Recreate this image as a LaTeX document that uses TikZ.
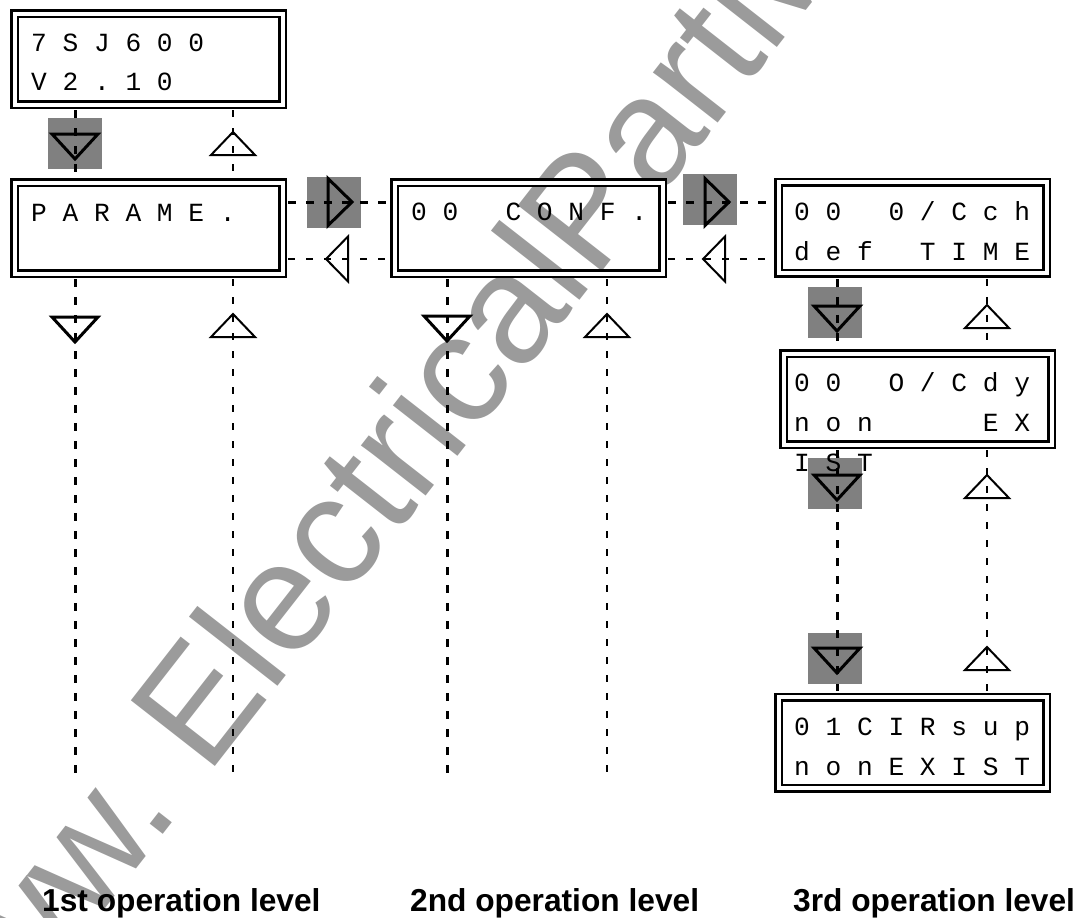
\documentclass[tikz,border=0pt]{standalone}
\usepackage{fontspec}
\newfontfamily\lcdfont{Liberation Mono}
\newfontfamily\lblfont{Liberation Sans}
\newfontfamily\wmfont{Liberation Sans}
\definecolor{wmgray}{RGB}{155,155,155}
\definecolor{sqgray}{RGB}{128,128,128}
\frenchspacing
\begin{document}
\begin{tikzpicture}[x=1pt,y=-1pt,
  lcd/.style={draw, double, double distance=4pt, line width=2.5pt, rectangle,
    minimum width=268pt, minimum height=91pt, inner sep=0pt},
  lcdtxt/.style={anchor=base west, inner sep=0pt, font=\lcdfont\fontsize{26.2}{30}\selectfont},
  lbl/.style={anchor=base west, inner sep=0pt, font=\lblfont\bfseries\fontsize{31.7}{36}\selectfont},
  wm/.style={inner sep=0pt, text=wmgray, rotate=52, font=\wmfont\fontsize{155}{160}\selectfont},
  downline/.style={line width=3pt, dash pattern=on 8pt off 10pt, shorten <=4.5pt, shorten >=4.5pt},
  upline/.style={line width=1.8pt, dash pattern=on 7pt off 11pt, shorten <=4.5pt, shorten >=4.5pt},
  thicktri/.style={line width=3pt, line join=miter},
  thintri/.style={line width=2pt, line join=miter},
  pics/gsq/.style={code={\fill[sqgray] (-27,-25.5) rectangle (27,25.5);}},
  pics/dtri/.style={code={\draw[thicktri] (-23,0) -- (23,0) -- (0,25) -- cycle;}},
  pics/rtri/.style={code={\draw[thicktri] (0,-23.5) -- (0,23.5) -- (24,0) -- cycle;}},
  pics/utri/.style={code={\draw[thintri] (-22,0) -- (22,0) -- (0,-23) -- cycle;}},
  pics/ltri/.style={code={\draw[thintri] (0,-22.5) -- (0,22.5) -- (-22,0) -- cycle;}},
]
\useasboundingbox (0,0) rectangle (1079,918);
\clip (0,0) rectangle (1079,918);

% watermark
\node[wm, anchor=base west] (wm1) at (207.5,776.6) {ElectricalPartManuals.com};
\node[wm, anchor=base east] (wm0) at (181.5,810.9) {www.};

% gray squares
\pic at (75,143.5) {gsq};
\pic at (333.5,202.5) {gsq};
\pic at (710,199.5) {gsq};
\pic at (835,312.5) {gsq};
\pic at (835,483.5) {gsq};
\pic at (835,658) {gsq};

% display boxes
\node[lcd] (b1) at (148.5,59) {};
\node[lcd] (b2) at (148.5,228) {};
\node[lcd] (b3) at (528.5,228) {};
\node[lcd] (b4) at (912.5,227.5) {};
\node[lcd] (b5) at (917.5,399) {};
\node[lcd] (b6) at (912.5,742.5) {};

% reference coordinates
\coordinate (cA) at (75,0);
\coordinate (cB) at (233,0);
\coordinate (cC) at (447,0);
\coordinate (cD) at (607,0);
\coordinate (cE) at (837,0);
\coordinate (cF) at (987,0);
\coordinate (rR) at (0,202);
\coordinate (rL) at (0,259);
\coordinate (eA) at (75,786);
\coordinate (eB) at (233,786);
\coordinate (eC) at (447,786);
\coordinate (eD) at (607,786);

% connectors
\draw[downline] (b1.south -| cA) -- (b2.north -| cA);
\draw[upline] (b1.south -| cB) -- (b2.north -| cB);
\draw[downline] (b2.south -| cA) -- (eA);
\draw[upline] (b2.south -| cB) -- (eB);
\draw[downline] (b3.south -| cC) -- (eC);
\draw[upline] (b3.south -| cD) -- (eD);
\draw[downline] (b2.east |- rR) -- (b3.west |- rR);
\draw[upline] (b2.east |- rL) -- (b3.west |- rL);
\draw[downline] (b3.east |- rR) -- (b4.west |- rR);
\draw[upline] (b3.east |- rL) -- (b4.west |- rL);
\draw[downline] (b4.south -| cE) -- (b5.north -| cE);
\draw[upline] (b4.south -| cF) -- (b5.north -| cF);
\draw[downline] (b5.south -| cE) -- (b6.north -| cE);
\draw[upline] (b5.south -| cF) -- (b6.north -| cF);

% display texts
\node[lcdtxt] (t1a) at (31,51) {7~S~J~6~0~0};
\node[lcdtxt] (t1b) at (31,90) {V~2~.~1~0};
\node[lcdtxt] (t2a) at (31,221) {P~A~R~A~M~E~.};
\node[lcdtxt] (t3a) at (411,220) {0~0~~~C~O~N~F~.};
\node[lcdtxt] (t4a) at (794,220) {0~0~~~0~/~C~c~h};
\node[lcdtxt] (t4b) at (794,260) {d~e~f~~~T~I~M~E};
\node[lcdtxt] (t5a) at (794,391) {0~0~~~O~/~C~d~y};
\node[lcdtxt] (t5b) at (794,431) {n~o~n~~~~~~~E~X};
\node[lcdtxt] (t5c) at (794,471) {I~S~T};
\node[lcdtxt] (t6a) at (794,735) {0~1~C~I~R~s~u~p};
\node[lcdtxt] (t6b) at (794,775) {n~o~n~E~X~I~S~T};

% arrow symbols
\pic at (75,134) {dtri};
\pic at (75,317) {dtri};
\pic at (447,316) {dtri};
\pic at (837,306) {dtri};
\pic at (837,475) {dtri};
\pic at (837,648) {dtri};
\pic at (328,202) {rtri};
\pic at (705,202) {rtri};
\pic at (233,155) {utri};
\pic at (233,337) {utri};
\pic at (607,337) {utri};
\pic at (987,328) {utri};
\pic at (987,498) {utri};
\pic at (987,670) {utri};
\pic at (348,259) {ltri};
\pic at (725,259) {ltri};

% level labels
\node[lbl] (l1) at (42,911) {1st operation level};
\node[lbl] (l2) at (410,911) {2nd operation level};
\node[lbl] (l3) at (793,911) {3rd operation level};
\end{tikzpicture}
\end{document}
